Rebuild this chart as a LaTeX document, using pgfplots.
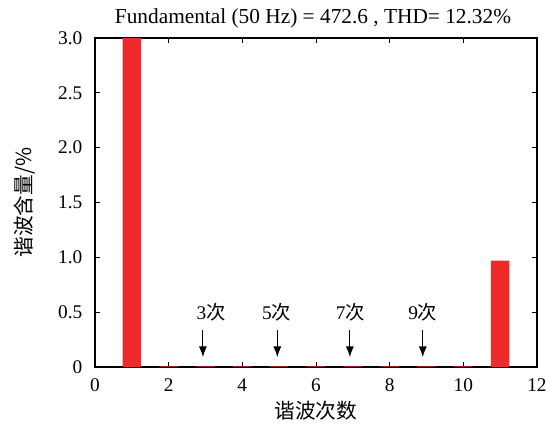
\documentclass[border=0pt]{standalone}
\usepackage{fontspec}
\setmainfont{Liberation Serif}
\newfontfamily\cjk{Noto Sans CJK SC}
\usepackage{pgfplots}
\usetikzlibrary{arrows.meta}
\pgfplotsset{compat=1.18}
\definecolor{barred}{HTML}{EE2A2A}
\begin{document}
\begin{tikzpicture}
\begin{axis}[
  name=ax,
  at={(0,0)}, anchor=south west,
  scale only axis,
  width=331.5pt, height=246.75pt,
  xmin=0, xmax=12, ymin=0, ymax=3,
  xtick={0,2,...,12},
  ytick={0,0.5,1,1.5,2,2.5,3},
  yticklabels={0,0.5,1.0,1.5,2.0,2.5,3.0},
  tick align=inside,
  tick style={black, line width=0.6pt},
  major tick length=4pt,
  axis line style={line width=0.8pt},
  /pgf/number format/assume math mode=true,
  ticklabel style={font=\fontsize{14.5}{16}\selectfont},
  xticklabel style={yshift=-5pt},
  yticklabel style={xshift=-6pt},
  clip=true,
]
\addplot[ybar, bar width=0.5, fill=barred, draw=none] coordinates {
  (1,100) (2,0.006) (3,0.006) (4,0.006) (5,0.006) (6,0.006) (7,0.006) (8,0.006) (9,0.006) (10,0.006) (11,0.97)
};
\foreach \xa/\xl/\lab in {2.93/3.15/3, 4.95/4.93/5, 6.92/6.93/7, 8.9/8.9/9} {
  \edef\tmp{\noexpand\draw[-{Latex[length=8pt,width=6pt]}, line width=0.8pt] (axis cs:\xa,0.34) -- (axis cs:\xa,0.09);
  \noexpand\node[font=\noexpand\fontsize{14.5}{16}\noexpand\selectfont] at (axis cs:\xl,0.5) {\lab\noexpand\cjk 次};}
  \tmp
}
\end{axis}
\node[font=\fontsize{16}{18}\selectfont] at (163.5pt,261.75pt) {Fundamental (50 Hz) = 472.6 , THD= 12.32\%};
\node[font=\cjk\fontsize{15.5}{17}\selectfont] at (165.75pt,-32.5pt) {谐波次数};
\node[font=\cjk\fontsize{15.5}{17}\selectfont, rotate=90] at (-53pt,123.4pt) {谐波含量/\%};
\pgfresetboundingbox
\path (-71.25pt,-47.25pt) rectangle (347.25pt,275.25pt);
\end{tikzpicture}
\end{document}
